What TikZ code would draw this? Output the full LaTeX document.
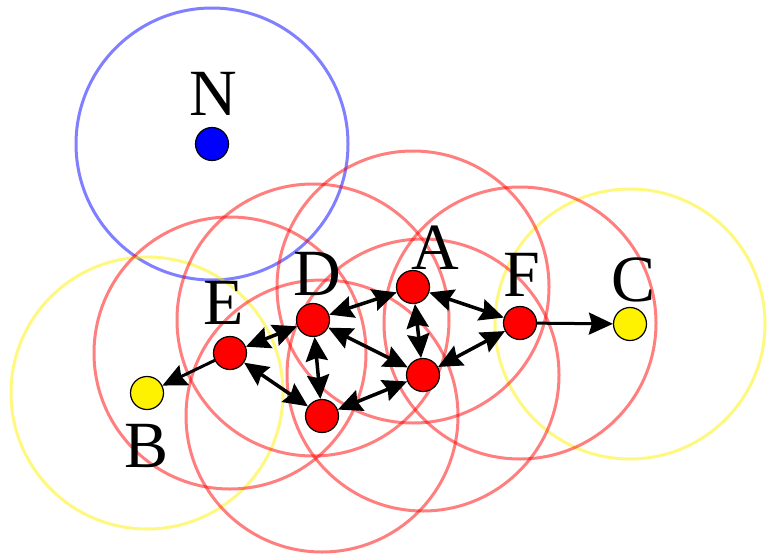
\documentclass[tikz,border=0pt]{standalone}
\usepackage{fontspec}
\setmainfont{Liberation Serif}
\usetikzlibrary{arrows.meta}
\begin{document}
\begin{tikzpicture}[x=1pt,y=-1pt,
  ring/.style={line width=3pt,draw opacity=0.5},
  redring/.style={ring,draw=red},
  yelring/.style={ring,draw=yellow},
  bluering/.style={ring,draw=blue},
  pt/.style={circle,draw=black,line width=1.2pt,minimum size=33pt,inner sep=0pt},
  core/.style={pt,fill=red},
  border/.style={pt,fill=yellow},
  noise/.style={pt,fill=blue},
  lbl/.style={font=\fontsize{66}{66}\selectfont,inner sep=0pt,anchor=center},
  tip/.tip={Stealth[length=24pt,width=22pt,inset=3pt]},
  link/.style={line width=3.5pt,tip-tip},
  one/.style={line width=3pt,-tip}
]
\useasboundingbox (0,0) rectangle (768,554);
\fill[white] (0,0) rectangle (768,554);
% coordinates
\coordinate (cN) at (212,144);
\coordinate (cA) at (413,287);
\coordinate (cD) at (313,320);
\coordinate (cE) at (230,353);
\coordinate (cG) at (322,416);
\coordinate (cH) at (423,375);
\coordinate (cF) at (520,323);
\coordinate (cB) at (147,393);
\coordinate (cC) at (630,324);
% rings
\draw[bluering] (cN) circle (136);
\draw[yelring] (cB) circle (136);
\draw[yelring] (cC) circle (135);
\foreach \c in {cA,cD,cE,cG,cH,cF} \draw[redring] (\c) circle (136);
% points
\node[noise] (N) at (cN) {};
\node[core] (A) at (cA) {};
\node[core] (D) at (cD) {};
\node[core] (E) at (cE) {};
\node[core] (G) at (cG) {};
\node[core] (H) at (cH) {};
\node[core] (F) at (cF) {};
\node[border] (B) at (cB) {};
\node[border] (C) at (cC) {};
% connectors
\draw[link] (E) -- (D);
\draw[link] (D) -- (A);
\draw[link] (A) -- (F);
\draw[link] (A) -- (H);
\draw[link] (D) -- (H);
\draw[link] (D) -- (G);
\draw[link] (E) -- (G);
\draw[link] (G) -- (H);
\draw[link] (H) -- (F);
\draw[one] (E) -- (B);
\draw[one] (F) -- (C);
% labels
\node[lbl] (lN) at (213,94) {N};
\node[lbl] (lA) at (435,248) {A};
\node[lbl] (lD) at (317,274) {D};
\node[lbl] (lE) at (224,303) {E};
\node[lbl] (lF) at (522,275) {F};
\node[lbl] (lC) at (634,280) {C};
\node[lbl] (lB) at (147,446) {B};
\end{tikzpicture}
\end{document}
